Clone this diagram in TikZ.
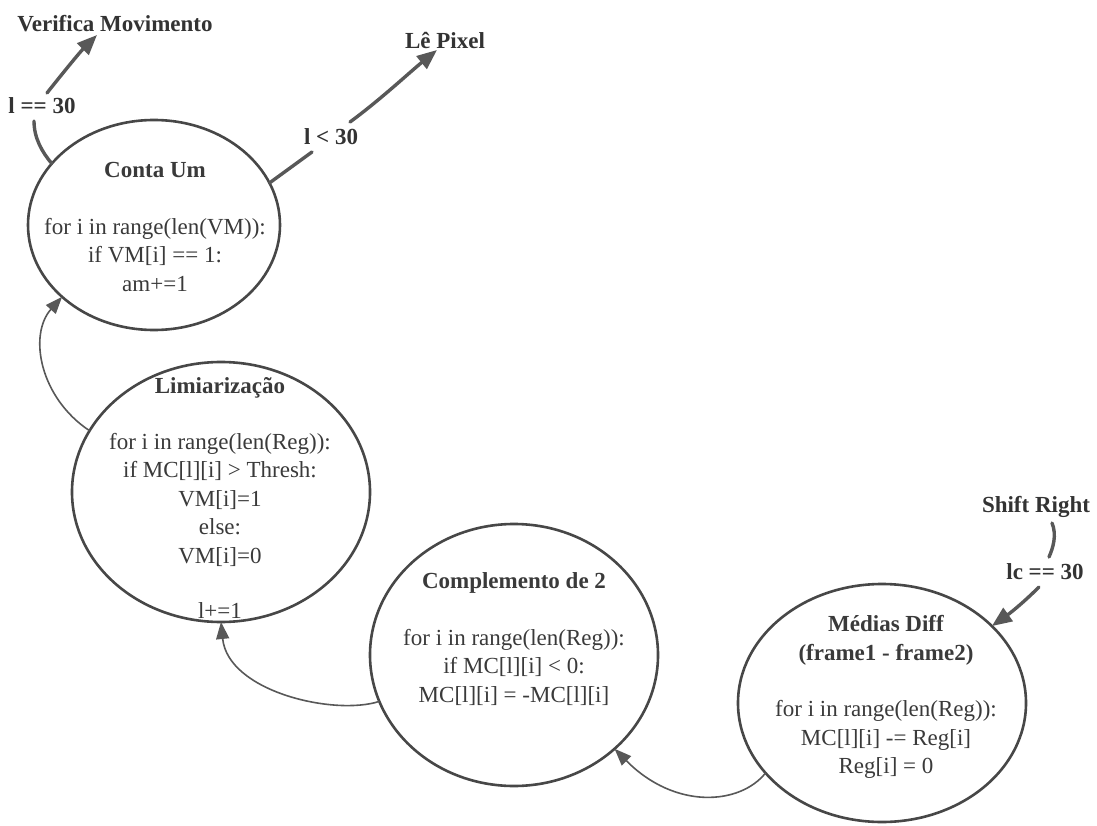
\documentclass[tikz,border=0pt]{standalone}
\usepackage{fontspec}
\setmainfont{Liberation Serif}
\usetikzlibrary{shapes.geometric,arrows.meta}

\definecolor{circ}{HTML}{474747}
\definecolor{arr}{HTML}{585858}
\definecolor{txt}{HTML}{3A3A3A}
\definecolor{tagc}{HTML}{333333}

\tikzset{
  state/.style={ellipse, draw=circ, line width=2.6pt, inner sep=0pt, outer sep=0pt},
  body/.style={font=\fontsize{23}{28.5}\selectfont, text=txt, align=center, inner sep=0pt},
  tag/.style={font=\bfseries\fontsize{23}{28}\selectfont, text=tagc, inner sep=0pt},
  thickseg/.style={draw=arr, line width=3.4pt, line cap=round},
  thickarrow/.style={thickseg, -{Triangle[length=20pt,width=16pt]}},
  link/.style={draw=arr, line width=1.6pt, -{Triangle[length=17pt,width=13pt]}},
}

\begin{document}
\begin{tikzpicture}[x=1pt,y=-1pt]
\useasboundingbox[fill=white] (0,0) rectangle (1097,826);

% states
\node[state, minimum width=252pt, minimum height=210pt] (conta)  at (154,225) {};
\node[state, minimum width=298pt, minimum height=260pt] (limiar) at (221,492) {};
\node[state, minimum width=288pt, minimum height=262pt] (compl)  at (514,655) {};
\node[state, minimum width=288pt, minimum height=238pt] (medias) at (882,703) {};

% state contents
\node[body] (contaT) at (155,227) {{\bfseries Conta Um}\\[28pt]
  for i in range(len(VM)):\\ if VM[i] == 1:\\ am+=1};
\node[body] (limiarT) at (220,498) {{\bfseries Limiarização}\\[27pt]
  for i in range(len(Reg)):\\ if MC[l][i] > Thresh:\\ VM[i]=1\\ else:\\ VM[i]=0\\[27pt] l+=1};
\node[body] (complT) at (514,639) {{\bfseries Complemento de 2}\\[28pt]
  for i in range(len(Reg)):\\ if MC[l][i] < 0:\\ MC[l][i] = -MC[l][i]};
\node[body] (mediasT) at (886,697) {{\bfseries Médias Diff}\\ {\bfseries (frame1 - frame2)}\\[28pt]
  for i in range(len(Reg)):\\ MC[l][i] -= Reg[i]\\ Reg[i] = 0};

% outside targets and conditions
\node[tag] (verif) at (115,24) {Verifica Movimento};
\node[tag] (pixel) at (445,41) {Lê Pixel};
\node[tag] (shift) at (1036,507) {Shift Right};
\node[tag] (condA) at (42,106) {l == 30};
\node[tag] (condB) at (331,137) {l < 30};
\node[tag] (condC) at (1045,572) {lc == 30};

% free ends of the thick connectors, beside the condition labels
\coordinate (a1) at (34,121);
\coordinate (a2) at (47,93);
\coordinate (aTip) at (97,35);
\coordinate (b1) at (312,152);
\coordinate (b2) at (350,122);
\coordinate (bTip) at (437,50);
\coordinate (c1) at (1052,523);
\coordinate (c2) at (1049,557);
\coordinate (c3) at (1039,587);

% Conta Um -> Verifica Movimento
\draw[thickseg] (conta.149) .. controls (42,152) and (34,138) .. (a1);
\draw[thickarrow] (a2) .. controls (62,74) and (80,52) .. (aTip);

% Conta Um -> Lê Pixel
\draw[thickseg] (conta.20) -- (b1);
\draw[thickarrow] (b2) .. controls (380,100) and (410,72) .. (bTip);

% Shift Right -> Médias Diff
\draw[thickseg] (c1) .. controls (1057,535) and (1053,548) .. (c2);
\draw[thickarrow] (c3) .. controls (1026,600) and (1013,611) .. (medias.35);

% chain between the states
\draw[link] (medias.211) .. controls (740,805) and (675,810) .. (compl.317);
\draw[link] (compl.199) .. controls (335,716) and (228,692) .. (limiar.270);
\draw[link] (limiar.155) .. controls (40,398) and (28,335) .. (conta.218);
\end{tikzpicture}
\end{document}
